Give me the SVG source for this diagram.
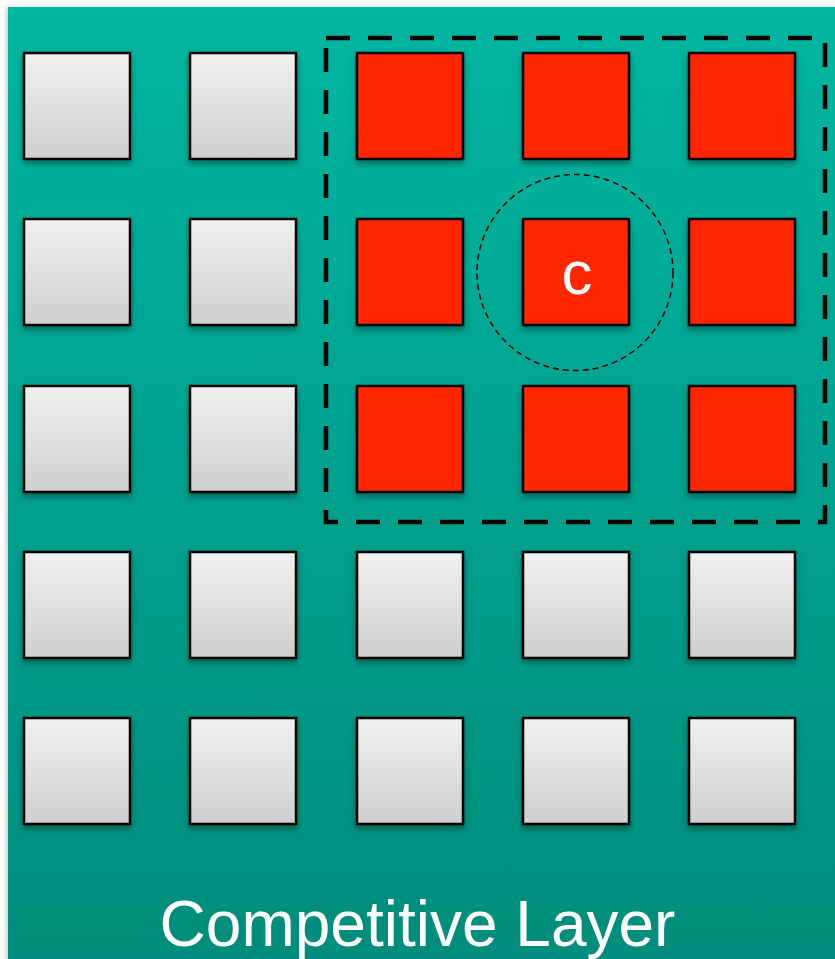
<svg xmlns="http://www.w3.org/2000/svg" width="835" height="959" viewBox="0 0 835 959">
<defs>
<linearGradient id="bg" x1="0" y1="0" x2="0" y2="1">
<stop offset="0" stop-color="#00B6A1"/>
<stop offset="1" stop-color="#008C7B"/>
</linearGradient>
<linearGradient id="gray" x1="0" y1="0" x2="0" y2="1">
<stop offset="0" stop-color="#F0F0F0"/>
<stop offset="1" stop-color="#CFCFCF"/>
</linearGradient>
<filter id="sh" x="-20%" y="-20%" width="140%" height="150%">
<feDropShadow dx="0" dy="4" stdDeviation="3" flood-color="#000" flood-opacity="0.35"/>
</filter>
<filter id="bgsh" x="-5%" y="-5%" width="110%" height="110%">
<feDropShadow dx="-2" dy="0" stdDeviation="2" flood-color="#000" flood-opacity="0.2"/>
</filter>
</defs>
<style>
.g{fill:url(#gray);stroke:#000;stroke-width:2.5;filter:url(#sh)}
.r{fill:#FF2600;stroke:#000;stroke-width:2.5;filter:url(#sh)}
.t{font-family:"Liberation Sans",Arial,sans-serif;fill:#fff}
</style>
<rect x="0" y="0" width="835" height="959" fill="#fff"/>
<rect id="layer" x="8" y="7" width="830" height="955" fill="url(#bg)" filter="url(#bgsh)"/>
<g id="nodes">
<g id="n00"><rect class="g" x="24" y="53" width="106" height="106"/></g>
<g id="n01"><rect class="g" x="190" y="53" width="106" height="106"/></g>
<g id="n02"><rect class="r" x="357" y="53" width="106" height="106"/></g>
<g id="n03"><rect class="r" x="523" y="53" width="106" height="106"/></g>
<g id="n04"><rect class="r" x="689" y="53" width="106" height="106"/></g>
<g id="n10"><rect class="g" x="24" y="219" width="106" height="106"/></g>
<g id="n11"><rect class="g" x="190" y="219" width="106" height="106"/></g>
<g id="n12"><rect class="r" x="357" y="219" width="106" height="106"/></g>
<g id="n13"><rect class="r" x="523" y="219" width="106" height="106"/><text class="t" x="577" y="294" font-size="62" text-anchor="middle">c</text></g>
<g id="n14"><rect class="r" x="689" y="219" width="106" height="106"/></g>
<g id="n20"><rect class="g" x="24" y="386" width="106" height="106"/></g>
<g id="n21"><rect class="g" x="190" y="386" width="106" height="106"/></g>
<g id="n22"><rect class="r" x="357" y="386" width="106" height="106"/></g>
<g id="n23"><rect class="r" x="523" y="386" width="106" height="106"/></g>
<g id="n24"><rect class="r" x="689" y="386" width="106" height="106"/></g>
<g id="n30"><rect class="g" x="24" y="552" width="106" height="106"/></g>
<g id="n31"><rect class="g" x="190" y="552" width="106" height="106"/></g>
<g id="n32"><rect class="g" x="357" y="552" width="106" height="106"/></g>
<g id="n33"><rect class="g" x="523" y="552" width="106" height="106"/></g>
<g id="n34"><rect class="g" x="689" y="552" width="106" height="106"/></g>
<g id="n40"><rect class="g" x="24" y="718" width="106" height="106"/></g>
<g id="n41"><rect class="g" x="190" y="718" width="106" height="106"/></g>
<g id="n42"><rect class="g" x="357" y="718" width="106" height="106"/></g>
<g id="n43"><rect class="g" x="523" y="718" width="106" height="106"/></g>
<g id="n44"><rect class="g" x="689" y="718" width="106" height="106"/></g>
</g>
<g id="connectors">
<rect x="326" y="38" width="499" height="484" fill="none" stroke="#000" stroke-width="4.5" stroke-dasharray="24 18"/>
<circle cx="575" cy="272.5" r="98" fill="none" stroke="#000" stroke-width="1.5" stroke-dasharray="6 4"/>
</g>
<text class="t" x="417.5" y="946" font-size="64" text-anchor="middle">Competitive Layer</text>
</svg>
